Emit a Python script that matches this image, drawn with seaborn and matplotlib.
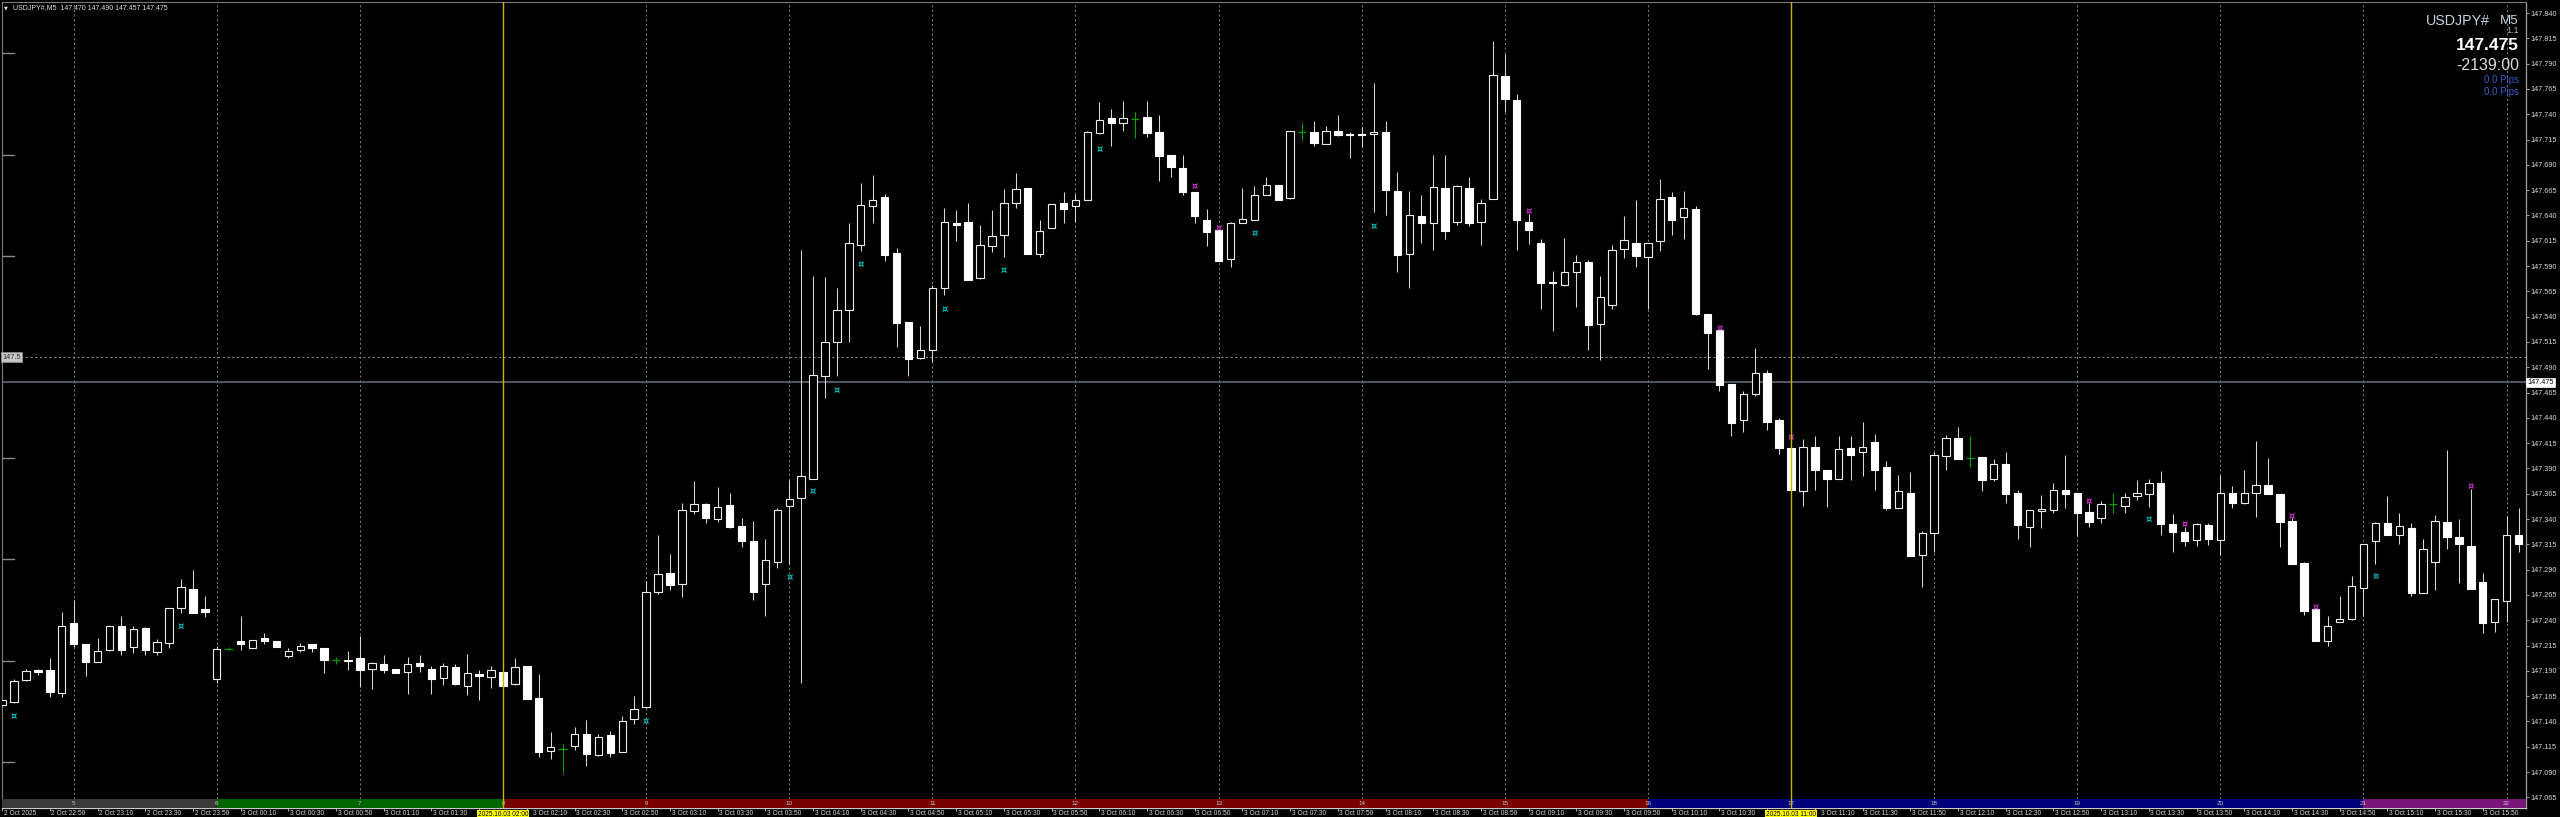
import numpy as np
import pandas as pd
import matplotlib
matplotlib.use("Agg")
import matplotlib.pyplot as plt
import seaborn as sns

# ---------------- data (USDJPY#, M5) ----------------
start_time = "2025-10-02 22:30"
open_ = [147.156, 147.159, 147.181, 147.191, 147.191, 147.168, 147.237, 147.216, 147.199, 147.211,
         147.234, 147.214, 147.232, 147.209, 147.217, 147.252, 147.271, 147.251, 147.182, 147.212,
         147.219, 147.213, 147.222, 147.219, 147.205, 147.211, 147.216, 147.213, 147.201, 147.201,
         147.203, 147.192, 147.197, 147.192, 147.189, 147.198, 147.192, 147.183, 147.194, 147.175,
         147.187, 147.184, 147.189, 147.177, 147.195, 147.163, 147.111, 147.113, 147.116, 147.128,
         147.107, 147.127, 147.110, 147.142, 147.154, 147.268, 147.287, 147.276, 147.348, 147.355,
         147.340, 147.354, 147.333, 147.318, 147.276, 147.298, 147.353, 147.361, 147.380, 147.481,
         147.515, 147.547, 147.611, 147.649, 147.658, 147.603, 147.535, 147.499, 147.507, 147.568,
         147.632, 147.633, 147.578, 147.610, 147.621, 147.652, 147.667, 147.602, 147.628, 147.652,
         147.649, 147.655, 147.721, 147.736, 147.731, 147.735, 147.737, 147.722, 147.700, 147.687,
         147.663, 147.635, 147.626, 147.597, 147.632, 147.635, 147.660, 147.670, 147.657, 147.722,
         147.722, 147.711, 147.723, 147.720, 147.720, 147.720, 147.722, 147.664, 147.602, 147.639,
         147.632, 147.667, 147.633, 147.667, 147.633, 147.656, 147.778, 147.754, 147.633, 147.613,
         147.574, 147.571, 147.584, 147.594, 147.533, 147.551, 147.607, 147.613, 147.599, 147.615,
         147.658, 147.638, 147.646, 147.543, 147.527, 147.473, 147.438, 147.464, 147.484, 147.438,
         147.410, 147.368, 147.411, 147.388, 147.380, 147.410, 147.406, 147.416, 147.391, 147.351,
         147.366, 147.304, 147.326, 147.402, 147.420, 147.400, 147.401, 147.380, 147.394, 147.366,
         147.332, 147.348, 147.349, 147.369, 147.366, 147.347, 147.341, 147.355, 147.353, 147.363,
         147.365, 147.376, 147.335, 147.327, 147.319, 147.334, 147.319, 147.366, 147.356, 147.366,
         147.374, 147.365, 147.338, 147.297, 147.251, 147.219, 147.238, 147.241, 147.272, 147.318,
         147.336, 147.324, 147.331, 147.267, 147.298, 147.337, 147.322, 147.313, 147.278, 147.238,
         147.259, 147.324]
high = [147.169, 147.182, 147.192, 147.192, 147.203, 147.248, 147.260, 147.216, 147.222, 147.235,
        147.244, 147.234, 147.233, 147.221, 147.252, 147.281, 147.290, 147.264, 147.215, 147.214,
        147.244, 147.220, 147.227, 147.219, 147.213, 147.217, 147.216, 147.213, 147.204, 147.210,
        147.224, 147.199, 147.206, 147.192, 147.204, 147.206, 147.195, 147.198, 147.197, 147.207,
        147.191, 147.195, 147.189, 147.203, 147.195, 147.187, 147.130, 147.118, 147.134, 147.141,
        147.128, 147.131, 147.145, 147.165, 147.279, 147.324, 147.305, 147.356, 147.378, 147.356,
        147.372, 147.366, 147.341, 147.338, 147.320, 147.351, 147.379, 147.606, 147.580, 147.579,
        147.568, 147.632, 147.672, 147.680, 147.661, 147.608, 147.535, 147.531, 147.571, 147.647,
        147.645, 147.652, 147.631, 147.645, 147.666, 147.682, 147.667, 147.635, 147.651, 147.663,
        147.661, 147.723, 147.752, 147.745, 147.753, 147.742, 147.753, 147.739, 147.700, 147.700,
        147.663, 147.646, 147.626, 147.633, 147.667, 147.669, 147.678, 147.670, 147.723, 147.731,
        147.733, 147.728, 147.739, 147.722, 147.727, 147.771, 147.733, 147.683, 147.664, 147.660,
        147.700, 147.700, 147.670, 147.678, 147.656, 147.812, 147.799, 147.760, 147.641, 147.617,
        147.585, 147.618, 147.601, 147.596, 147.580, 147.611, 147.639, 147.655, 147.613, 147.676,
        147.663, 147.664, 147.649, 147.543, 147.527, 147.473, 147.466, 147.509, 147.487, 147.440,
        147.410, 147.419, 147.422, 147.388, 147.422, 147.422, 147.436, 147.424, 147.397, 147.383,
        147.386, 147.328, 147.406, 147.423, 147.431, 147.422, 147.401, 147.399, 147.406, 147.369,
        147.349, 147.364, 147.376, 147.403, 147.366, 147.356, 147.358, 147.366, 147.366, 147.379,
        147.380, 147.387, 147.345, 147.332, 147.336, 147.336, 147.383, 147.373, 147.388, 147.417,
        147.400, 147.365, 147.341, 147.298, 147.251, 147.244, 147.264, 147.284, 147.315, 147.337,
        147.363, 147.346, 147.336, 147.320, 147.344, 147.408, 147.340, 147.370, 147.287, 147.261,
        147.343, 147.351]
low = [147.146, 147.158, 147.180, 147.186, 147.164, 147.164, 147.214, 147.185, 147.199, 147.210,
       147.206, 147.208, 147.206, 147.206, 147.213, 147.247, 147.247, 147.243, 147.178, 147.211,
       147.211, 147.213, 147.216, 147.214, 147.203, 147.209, 147.209, 147.188, 147.197, 147.191,
       147.174, 147.172, 147.188, 147.188, 147.167, 147.189, 147.167, 147.176, 147.176, 147.166,
       147.161, 147.173, 147.174, 147.176, 147.162, 147.105, 147.103, 147.089, 147.112, 147.096,
       147.106, 147.105, 147.110, 147.137, 147.153, 147.266, 147.270, 147.263, 147.345, 147.336,
       147.337, 147.331, 147.312, 147.260, 147.244, 147.292, 147.296, 147.178, 147.380, 147.460,
       147.481, 147.515, 147.605, 147.632, 147.595, 147.510, 147.481, 147.498, 147.495, 147.561,
       147.615, 147.576, 147.577, 147.604, 147.599, 147.647, 147.602, 147.599, 147.628, 147.632,
       147.633, 147.655, 147.720, 147.709, 147.723, 147.716, 147.717, 147.674, 147.678, 147.660,
       147.632, 147.610, 147.595, 147.589, 147.632, 147.635, 147.660, 147.655, 147.656, 147.715,
       147.709, 147.711, 147.718, 147.697, 147.708, 147.643, 147.640, 147.584, 147.568, 147.613,
       147.606, 147.617, 147.631, 147.630, 147.611, 147.656, 147.742, 147.606, 147.612, 147.548,
       147.526, 147.570, 147.549, 147.507, 147.497, 147.548, 147.598, 147.589, 147.548, 147.605,
       147.621, 147.617, 147.542, 147.488, 147.466, 147.422, 147.426, 147.462, 147.428, 147.404,
       147.369, 147.353, 147.369, 147.352, 147.380, 147.379, 147.382, 147.369, 147.349, 147.351,
       147.303, 147.273, 147.307, 147.388, 147.399, 147.391, 147.368, 147.378, 147.356, 147.320,
       147.312, 147.331, 147.346, 147.351, 147.323, 147.332, 147.336, 147.346, 147.346, 147.359,
       147.352, 147.324, 147.307, 147.313, 147.313, 147.314, 147.304, 147.351, 147.355, 147.342,
       147.365, 147.312, 147.296, 147.245, 147.219, 147.215, 147.238, 147.240, 147.244, 147.296,
       147.324, 147.315, 147.264, 147.267, 147.270, 147.310, 147.277, 147.271, 147.227, 147.228,
       147.238, 147.307]
close = [147.161, 147.180, 147.190, 147.189, 147.169, 147.234, 147.216, 147.199, 147.210, 147.234,
         147.211, 147.231, 147.211, 147.218, 147.252, 147.273, 147.247, 147.248, 147.212, 147.212,
         147.216, 147.220, 147.219, 147.214, 147.210, 147.215, 147.213, 147.201, 147.201, 147.200,
         147.191, 147.198, 147.191, 147.188, 147.197, 147.195, 147.182, 147.195, 147.177, 147.188,
         147.185, 147.191, 147.175, 147.194, 147.162, 147.110, 147.115, 147.113, 147.128, 147.108,
         147.125, 147.109, 147.140, 147.152, 147.268, 147.286, 147.275, 147.349, 147.355, 147.341,
         147.352, 147.332, 147.318, 147.268, 147.299, 147.349, 147.360, 147.382, 147.482, 147.515,
         147.547, 147.613, 147.650, 147.655, 147.601, 147.534, 147.498, 147.507, 147.568, 147.633,
         147.631, 147.576, 147.611, 147.620, 147.652, 147.666, 147.602, 147.625, 147.651, 147.646,
         147.655, 147.722, 147.734, 147.731, 147.736, 147.735, 147.721, 147.699, 147.688, 147.663,
         147.639, 147.624, 147.595, 147.632, 147.636, 147.660, 147.670, 147.655, 147.723, 147.722,
         147.712, 147.723, 147.719, 147.719, 147.719, 147.722, 147.665, 147.601, 147.640, 147.632,
         147.668, 147.625, 147.669, 147.632, 147.652, 147.779, 147.755, 147.635, 147.626, 147.573,
         147.573, 147.584, 147.594, 147.532, 147.559, 147.606, 147.616, 147.600, 147.613, 147.656,
         147.635, 147.647, 147.543, 147.524, 147.472, 147.435, 147.464, 147.484, 147.436, 147.410,
         147.369, 147.411, 147.388, 147.380, 147.409, 147.403, 147.411, 147.388, 147.351, 147.368,
         147.303, 147.326, 147.403, 147.420, 147.399, 147.400, 147.379, 147.394, 147.365, 147.334,
         147.349, 147.350, 147.369, 147.365, 147.346, 147.337, 147.355, 147.355, 147.362, 147.366,
         147.376, 147.335, 147.327, 147.318, 147.335, 147.320, 147.366, 147.356, 147.366, 147.374,
         147.365, 147.337, 147.296, 147.249, 147.219, 147.234, 147.241, 147.274, 147.315, 147.336,
         147.324, 147.333, 147.267, 147.310, 147.338, 147.322, 147.315, 147.271, 147.237, 147.261,
         147.324, 147.315]

# indicator arrows (bar index, price)
up_arrow_idx = [1, 15, 54, 66, 68, 70, 72, 79, 84, 92, 105, 115, 180, 199]
up_arrow_price = [147.145, 147.234, 147.140, 147.283, 147.368, 147.468, 147.592, 147.548,
                  147.586, 147.706, 147.623, 147.630, 147.340, 147.284]
dn_arrow_idx = [100, 102, 128, 144, 150, 175, 183, 192, 194, 207]
dn_arrow_price = [147.669, 147.628, 147.644, 147.529, 147.421, 147.358, 147.335, 147.343,
                  147.253, 147.373]

# session colour bands
band_edges = [-0.5, 18, 42, 138, 198, 212]
band_colors = ["#3a3a3a", "#006400", "#7a0000", "#00007a", "#7a157a"]
hour_numbers = list(range(5, 23))
hour_bars = list(range(6, 212, 12))
period_sep_bars = [42, 150]
period_sep_labels = ["2025.10.03 02:00", "2025.10.03 11:00"]
bid_price = 147.475
level_price = 147.5
right_ticks = [round(147.065 + 0.025 * k, 3) for k in range(32)]
left_marks = [147.1, 147.2, 147.3, 147.4, 147.5, 147.6, 147.7, 147.8]
header_text = "USDJPY#,M5  147.470 147.490 147.457 147.475"

# ---------------- style ----------------
sns.set_theme(style="dark", rc={"axes.facecolor": "black", "figure.facecolor": "black",
                                "savefig.facecolor": "black", "axes.grid": False})
plt.rcParams["font.family"] = ["Liberation Sans", "DejaVu Sans"]

W, H = 2560, 817
fig = plt.figure(figsize=(W / 100, H / 100), dpi=100)
ax = fig.add_axes([2 / W, 9 / H, 2524 / W, 806 / H])
ax.set_facecolor("black")

n = len(open_)
x = np.arange(n)
o = np.array(open_); c = np.array(close)
hi = np.maximum(np.array(high), np.maximum(o, c))
lo = np.minimum(np.array(low), np.minimum(o, c))

ax.set_xlim(-0.0084, 211.626)
ax.set_ylim(147.05443, 147.85087)

band_top = 9.3 / 806.0
xt = ax.get_xaxis_transform()
yt = ax.get_yaxis_transform()

# hour separators
for b in hour_bars:
    if b in period_sep_bars:
        continue
    ax.axvline(b, ymin=band_top, ymax=1, color="#7a7a7a", lw=0.75, ls=(0, (2, 2.5)), zorder=1)

ax.axhline(level_price, color="#8a8a8a", lw=0.75, ls=(0, (2, 2.5)), zorder=1)
ax.axhline(bid_price, color="#59606a", lw=1.3, zorder=1)

# candles
doji = o == c
bull = (c > o)
bear = (c < o)
wick_col = "#d8d8d8"
green = "#00a000"
ax.vlines(x[~doji], lo[~doji], hi[~doji], color=wick_col, lw=0.75, zorder=2)
bw = 0.62
ax.bar(x[bull], (c - o)[bull], bottom=o[bull], width=bw, facecolor="black",
       edgecolor="#ececec", lw=0.8, zorder=3)
ax.bar(x[bear], (o - c)[bear], bottom=c[bear], width=bw, facecolor="white",
       edgecolor="white", lw=0.8, zorder=3)
ax.vlines(x[doji], lo[doji], hi[doji], color=green, lw=0.8, zorder=3)
ax.hlines(o[doji], x[doji] - 0.36, x[doji] + 0.36, color=green, lw=0.9, zorder=3)

# indicator arrows
for i, p in zip(up_arrow_idx, up_arrow_price):
    ax.text(i, p, "\u00a4", color="#00b4b4", fontsize=7, ha="center", va="center",
            family="DejaVu Sans", fontweight="bold", zorder=4)
for i, p in zip(dn_arrow_idx, dn_arrow_price):
    ax.text(i, p, "\u00a4", color="#c030c0", fontsize=7, ha="center", va="center",
            family="DejaVu Sans", fontweight="bold", zorder=4)

# session band
for (a, b), col in zip(zip(band_edges[:-1], band_edges[1:]), band_colors):
    ax.axvspan(a, b, ymin=0, ymax=band_top, color=col, lw=0, zorder=5)
for h, b in zip(hour_numbers, hour_bars):
    ax.text(b, band_top / 2, str(h), transform=xt, fontsize=4.5, color="#c8c8c8",
            ha="center", va="center", zorder=6)

# period separators (yellow)
for b in period_sep_bars:
    ax.axvline(b, color="#c8b400", lw=1.0, zorder=7)

# left side small marks
for p in left_marks:
    ax.plot([0, 12 / 2524], [p, p], transform=yt, color="#8c8c8c", lw=1.0, zorder=6)

ax.text(0.5 / 2524, level_price, "147.5", transform=yt, fontsize=5.3, color="#303030",
        ha="left", va="center", zorder=8,
        bbox=dict(boxstyle="square,pad=0.15", fc="#c4c4c4", ec="#909090", lw=0.5))

# right axis
ax.yaxis.tick_right()
ax.set_yticks(right_ticks)
ax.set_yticklabels([f"{t:.3f}" for t in right_ticks])
ax.tick_params(axis="y", which="both", right=True, left=False, length=2.2, width=0.7,
               pad=1.2, labelsize=5.2, labelcolor="#d8d8d8", color="#a0a0a0", direction="out")
ax.text(1.0007, bid_price, "147.475", transform=yt, fontsize=5.2, color="black",
        ha="left", va="center", zorder=9, clip_on=False,
        bbox=dict(boxstyle="square,pad=0.18", fc="white", ec="white", lw=0.5))

# time axis
times = pd.date_range(start_time, periods=n, freq="5min")
tick_bars = [0] + list(range(4, n, 4))
ax.set_xticks(tick_bars)
ax.set_xticklabels([])
ax.tick_params(axis="x", bottom=True, length=2.5, width=0.7, color="#b0b0b0", direction="out")
hidden = {b - 2 for b in period_sep_bars}   # labels fully covered by the date boxes
for b in tick_bars:
    if b in hidden:
        continue
    t = times[b]
    lab = "2 Oct 2025" if b == 0 else f"{t.day} Oct {t:%H:%M}"
    xo = 1.6 / 11.926
    if (b - 2) in period_sep_bars:
        xo = 6.0 / 11.926
    ax.text(b + xo, -2.2 / 806, lab, transform=xt, fontsize=4.8, color="#d4d4d4",
            ha="left", va="top", clip_on=False)
for b, lab in zip(period_sep_bars, period_sep_labels):
    ax.text(b, -2.6 / 806, lab, transform=xt, fontsize=4.7, color="black", ha="center",
            va="top", clip_on=False, zorder=10,
            bbox=dict(boxstyle="square,pad=0.15", fc="#ffff00", ec="#ffff00", lw=0))

for side in ["left", "top"]:
    ax.spines[side].set_color("#7a7a7a")
    ax.spines[side].set_linewidth(0.8)
ax.spines["right"].set_color("#a0a0a0")
ax.spines["right"].set_linewidth(0.9)
ax.spines["bottom"].set_color("#c8c8c8")
ax.spines["bottom"].set_linewidth(0.9)

# header texts
def ftext(xp, yp, s, **kw):
    fig.text(xp / W, 1 - yp / H, s, **kw)

ftext(5.5, 7.6, "\u25bc", fontsize=3.6, color="#e0e0e0", ha="center", va="center",
      family="DejaVu Sans")
ftext(13, 7.7, header_text, fontsize=5, color="#e0e0e0", ha="left", va="center")
ftext(2426, 21, "USDJPY#", fontsize=10.3, color="#c4d4e4", ha="left", va="center")
ftext(2519, 21, "M5", fontsize=9.6, color="#c4d4e4", ha="right", va="center")
ftext(2519, 30.5, "1.1", fontsize=6.5, color="#b4b4b4", ha="right", va="center")
ftext(2519, 45, "147.475", fontsize=12.5, color="white", ha="right", va="center",
      fontweight="bold")
ftext(2519, 66, "-2139:00", fontsize=11.5, color="#dcdcdc", ha="right", va="center")
ftext(2519, 80, "0.0 Pips", fontsize=7, color="#3a5cc8", ha="right", va="center")
ftext(2519, 92, "0.0 Pips", fontsize=7, color="#3a5cc8", ha="right", va="center")

fig.savefig("out.png", dpi=100, facecolor="black")
